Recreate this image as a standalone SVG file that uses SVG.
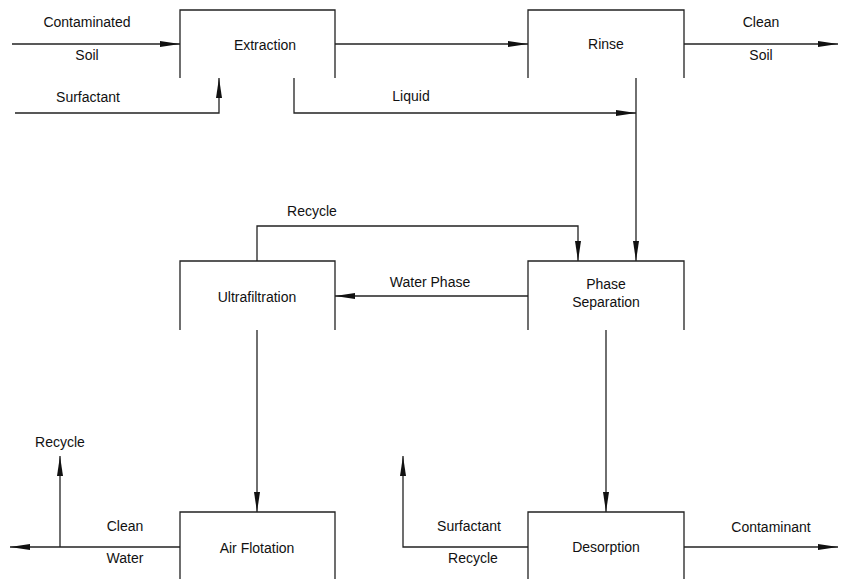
<svg xmlns="http://www.w3.org/2000/svg" width="845" height="579" viewBox="0 0 845 579">
<style>
.box{fill:none;stroke:#222;stroke-width:1.3}
.ln{fill:none;stroke:#222;stroke-width:1.3}
.arr{marker-end:url(#ah)}
text{font-family:"Liberation Sans",Arial,sans-serif;font-size:14px;fill:#111;text-anchor:middle}
</style>
<defs>
<marker id="ah" markerWidth="22" markerHeight="10" refX="20" refY="5" orient="auto" markerUnits="userSpaceOnUse">
<path d="M0,2 L20,5 L0,8 Z" fill="#111"/>
</marker>
</defs>
<rect width="845" height="579" fill="#fff"/>
<g id="extraction"><path class="box" d="M180,78 V10 H335 V78"/><text x="265" y="50">Extraction</text></g>
<g id="rinse"><path class="box" d="M528,78 V10 H684 V78"/><text x="606" y="49">Rinse</text></g>
<g id="phase-separation"><path class="box" d="M528,330 V261 H684 V330"/><text x="606" y="289">Phase</text><text x="606" y="307">Separation</text></g>
<g id="ultrafiltration"><path class="box" d="M180,330 V261 H335 V330"/><text x="257" y="302">Ultrafiltration</text></g>
<g id="air-flotation"><path class="box" d="M180,579 V512 H335 V579"/><text x="257" y="553">Air Flotation</text></g>
<g id="desorption"><path class="box" d="M528,579 V512 H684 V579"/><text x="606" y="552">Desorption</text></g>
<g id="connectors">
<path class="ln arr" d="M12,44 H180"/>
<text x="87" y="27">Contaminated</text><text x="87" y="60">Soil</text>
<path class="ln arr" d="M15,113 H219 V78"/>
<text x="88" y="102">Surfactant</text>
<path class="ln arr" d="M335,44 H528"/>
<path class="ln arr" d="M684,44 H838"/>
<text x="761" y="27">Clean</text><text x="761" y="60">Soil</text>
<path class="ln arr" d="M294,78 V113 H636"/>
<text x="411" y="101">Liquid</text>
<path class="ln arr" d="M636,78 V261"/>
<path class="ln arr" d="M257,261 V226 H578 V261"/>
<text x="312" y="216">Recycle</text>
<path class="ln arr" d="M528,296 H335"/>
<text x="430" y="287">Water Phase</text>
<path class="ln arr" d="M257,330 V512"/>
<path class="ln arr" d="M606,330 V512"/>
<path class="ln arr" d="M180,547 H10"/>
<path class="ln arr" d="M60,547 V456"/>
<text x="125" y="531">Clean</text><text x="125" y="563">Water</text>
<text x="60" y="447">Recycle</text>
<path class="ln arr" d="M528,547 H403 V456"/>
<text x="469" y="531">Surfactant</text><text x="473" y="563">Recycle</text>
<path class="ln arr" d="M684,547 H838"/>
<text x="771" y="532">Contaminant</text>
</g>
</svg>
